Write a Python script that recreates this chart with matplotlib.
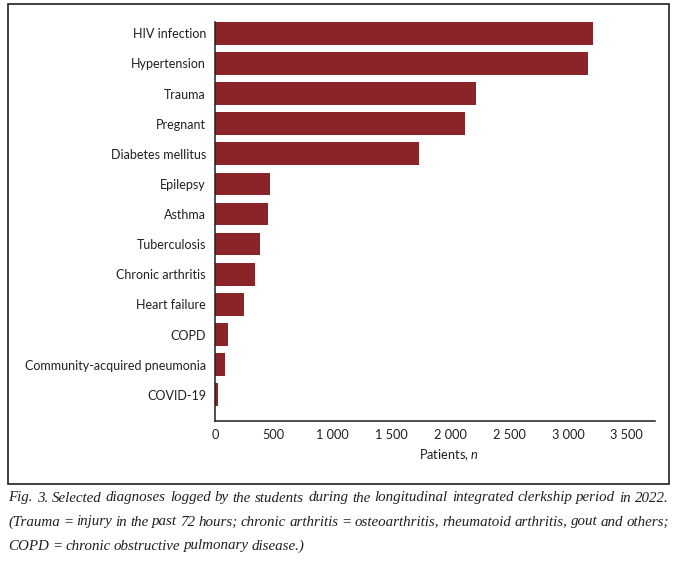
import matplotlib
matplotlib.use('Agg')
import matplotlib.pyplot as plt
from matplotlib.patches import Rectangle
from matplotlib.ticker import FuncFormatter

diagnoses = ['HIV infection', 'Hypertension', 'Trauma', 'Pregnant', 'Diabetes mellitus',
             'Epilepsy', 'Asthma', 'Tuberculosis', 'Chronic arthritis', 'Heart failure',
             'COPD', 'Community-acquired pneumonia', 'COVID-19']
patients = [3214, 3172, 2219, 2126, 1735, 468, 451, 383, 340, 247, 111, 85, 23]
xticks = [0, 500, 1000, 1500, 2000, 2500, 3000, 3500]

caption = [
    'Fig. 3. Selected diagnoses logged by the students during the longitudinal integrated clerkship period in 2022.',
    '(Trauma = injury in the past 72 hours; chronic arthritis = osteoarthritis, rheumatoid arthritis, gout and others;',
    'COPD = chronic obstructive pulmonary disease.)',
]

plt.rcParams['font.family'] = ['Lato', 'DejaVu Sans']
plt.rcParams['mathtext.fontset'] = 'custom'
plt.rcParams['mathtext.it'] = 'Lato:italic'
plt.rcParams['mathtext.rm'] = 'Lato'

W, H = 690, 564
fig = plt.figure(figsize=(W / 100, H / 100), dpi=100)
ax = fig.add_axes([215 / W, 1 - 421 / H, 440 / W, 399 / H])

txt = '#231f20'
ax.barh(range(len(diagnoses)), patients, height=0.75, color='#8a2428')
ax.set_yticks(range(len(diagnoses)))
ax.set_yticklabels(diagnoses)
ax.set_ylim(12.87, -0.375)
ax.set_xlim(0, 3740)
ax.set_xticks(xticks)
ax.xaxis.set_major_formatter(FuncFormatter(lambda v, p: f'{int(v):,}'.replace(',', ' ')))
ax.tick_params(length=0, labelsize=9.2, colors=txt)
ax.tick_params(axis='y', labelsize=9.0, pad=6.5)
ax.tick_params(axis='x', pad=6)
for s in ['top', 'right']:
    ax.spines[s].set_visible(False)
for s in ['left', 'bottom']:
    ax.spines[s].set_linewidth(1.1)
    ax.spines[s].set_color('#231f20')
ax.set_xlabel('Patients, $\\it{n}$', fontsize=9.2, color=txt, labelpad=6)
ax.xaxis.set_label_coords(0.532, -0.065)

# frame around chart
fig.patches.append(Rectangle((8 / W, 1 - 484 / H), 661 / W, 480 / H, transform=fig.transFigure,
                             fill=False, edgecolor='#231f20', linewidth=1.2))

# justified caption
renderer = fig.canvas.get_renderer()
left, right = 8, 669
ys = [498, 522, 546]
fs = 10.8
gaps = []
for i, line in enumerate(caption):
    words = line.split(' ')
    items = [fig.text(0, 1 - ys[i] / H, w, fontsize=fs, family='Liberation Serif',
                      style='italic', color=txt, va='center', ha='left') for w in words]
    widths = [t.get_window_extent(renderer).width for t in items]
    if i < len(caption) - 1:
        gap = (right - left - sum(widths)) / (len(words) - 1)
        gaps.append(gap)
    else:
        gap = min(gaps)
    x = left
    for t, w in zip(items, widths):
        t.set_x(x / W)
        x += w + gap

fig.savefig('out.png', dpi=100)
